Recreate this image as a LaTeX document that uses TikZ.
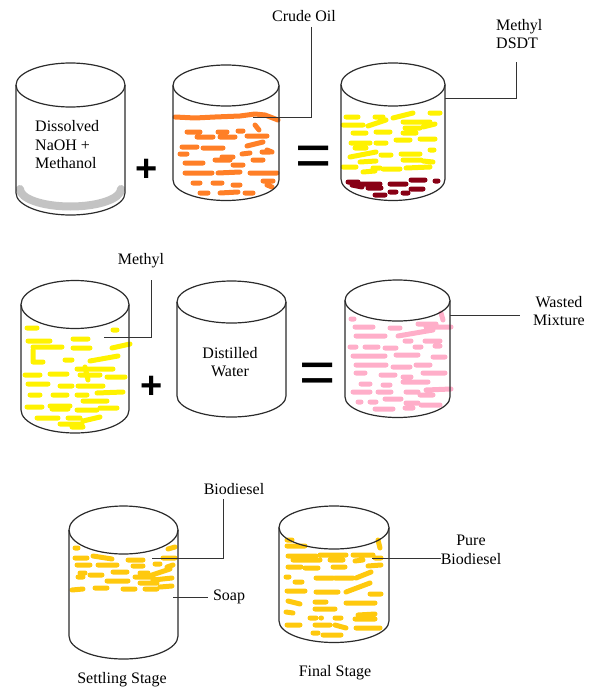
\documentclass[tikz,border=0pt]{standalone}
\usepackage{fontspec}
\setmainfont{Liberation Serif}
\newfontfamily\signfont{Liberation Sans}
\usepackage{xcolor}
\usepackage{tikz}
\definecolor{PaintOrange}{HTML}{FF7F27}
\definecolor{PaintYellow}{HTML}{FFF200}
\definecolor{PaintMaroon}{HTML}{880015}
\definecolor{PaintPink}{HTML}{FFAEC9}
\definecolor{PaintGold}{HTML}{FFC90E}
\definecolor{PaintGrey}{HTML}{C3C3C3}
\definecolor{TankLine}{HTML}{2B2B2B}

\begin{document}
\begin{tikzpicture}[x=1pt,y=-1pt,
  tank/.style={draw=TankLine,line width=1.2},
  leader/.style={draw=black!80,line width=1},
  lbl/.style={font=\fontsize{16}{18.5}\selectfont,inner sep=0pt},
  plussign/.style={font=\signfont\bfseries\fontsize{38}{38}\selectfont,inner sep=0pt},
  eqsign/.style={font=\signfont\fontsize{62}{62}\selectfont,inner sep=0pt},
  blob/.style={line width=5,line cap=round,line join=round}]
\path[use as bounding box] (0,0) rectangle (593,688);

% first row: NaOH + crude oil = methyl layer over residue
\draw[PaintGrey,line width=8,line cap=round] (20,189) arc[start angle=180,end angle=0,x radius=50.5,y radius=17.5];
\draw[tank] (16,85) -- (16,193) arc[start angle=180,end angle=0,x radius=54.5,y radius=22] -- (125,85);
\draw[tank] (70.5,85) ellipse[x radius=54.5,y radius=22];
\node[lbl,anchor=west,align=left] (naoh) at (35,145) {Dissolved\\NaOH +\\Methanol};
\node[plussign] (plusA) at (147,170) {+};

\draw[blob,PaintOrange] (175,117) -- (195,118) -- (215,117) -- (240,116) -- (255,114) -- (265,115) -- (278,120);
\draw[blob,PaintOrange] (187,132)--(200,132) (218,132)--(227,132) (238,131)--(243,131) (255,125)--(259,130)
  (197,137)--(213,137) (220,137)--(235,137) (247,136)--(267,136)
  (182,147)--(197,147) (203,148)--(223,148) (247,146)--(263,142) (267,150)--(272,152)
  (180,154)--(187,154) (222,157)--(233,157) (242,154)--(250,153) (262,152)--(270,152)
  (185,163)--(203,163) (215,160)--(230,160) (233,165)--(243,165) (253,160)--(263,160)
  (185,173)--(212,173) (218,173)--(240,172) (250,173)--(277,173)
  (193,183)--(200,183) (213,183)--(222,183) (233,185)--(240,185) (263,181)--(273,181) (267,185)--(272,187)
  (200,193)--(208,193) (220,193)--(238,192) (245,193)--(253,193);
\draw[tank] (173,85.5) -- (173,180) arc[start angle=180,end angle=0,x radius=53,y radius=20.5] -- (279,85.5);
\draw[tank] (226,85.5) ellipse[x radius=53,y radius=20.5];
\node[lbl] (crude) at (304,16) {Crude Oil};
\node[eqsign] (eqA) at (314,161) {=};

\draw[blob,PaintYellow] (346,117)--(358,117) (375,117)--(383,117) (393,118)--(413,113) (430,113)--(440,113)
  (343,125)--(363,125) (368,126)--(386,120) (403,122)--(430,122) (405,128)--(420,128) (423,127)--(435,124)
  (353,133)--(366,133) (376,132)--(390,132) (403,133)--(416,133)
  (396,140)--(410,140) (420,139)--(435,139)
  (351,143)--(370,143) (376,143)--(386,143)
  (355,148)--(366,148) (430,150)--(434,150)
  (350,157)--(376,152) (381,155)--(391,155) (401,154)--(420,154)
  (360,162)--(376,161) (403,160)--(421,160) (423,161)--(433,162)
  (343,167)--(356,167) (373,168)--(380,168) (383,169)--(400,169) (406,168)--(430,167)
  (363,172)--(375,171);
\draw[blob,PaintMaroon] (348,182)--(358,182) (361,184)--(380,184) (390,184)--(406,184) (411,180)--(425,180) (435,181)--(438,181)
  (352,185)--(362,187) (368,188)--(381,188) (411,189)--(423,189)
  (375,195)--(385,195) (390,192)--(396,192) (403,193)--(408,193);
\draw[tank] (341,84.5) -- (341,179) arc[start angle=180,end angle=0,x radius=52,y radius=21.5] -- (445,84.5);
\draw[tank] (393,84.5) ellipse[x radius=52,y radius=21.5];
\node[lbl,anchor=west,align=left] (dsdt) at (496,34) {Methyl\\DSDT};

\coordinate (crudeTip) at (253,117);
\coordinate (dsdtTip) at (445,98);
\draw[leader] ([xshift=7]crude.south) ++(0,5) |- (crudeTip);
\draw[leader] (dsdt.south west) ++(20,13) |- (dsdtTip);

% second row: washing with distilled water
\draw[blob,PaintYellow] (27,328)--(37,328) (113,330)--(117,330)
  (28,341)--(50,341) (73,339)--(88,339)
  (33,347)--(62,347) (73,348)--(90,348) (112,348)--(130,344)
  (33,350)--(33,362)--(43,362)
  (65,360)--(72,360) (90,361)--(118,356)
  (77,369)--(113,369)
  (25,375)--(40,375) (50,374)--(67,374) (80,375)--(100,375) (107,377)--(125,377) (85,367)--(88,380)
  (28,384)--(48,384) (60,386)--(72,386) (78,386)--(103,386)
  (30,395)--(40,395) (53,395)--(67,395) (77,395)--(87,395) (97,393)--(123,392)
  (83,401)--(107,401)
  (27,407)--(42,407) (50,406)--(70,406) (52,409)--(68,409) (77,410)--(97,410) (100,408)--(117,408)
  (37,418)--(58,418) (68,418)--(80,418) (83,421)--(100,417)
  (60,424)--(82,424) (72,427)--(83,427);
\draw[tank] (21,304.5) -- (21,410) arc[start angle=180,end angle=0,x radius=54,y radius=23] -- (129,304.5);
\draw[tank] (75,304.5) ellipse[x radius=54,y radius=24];
\node[lbl] (methyl) at (141,261) {Methyl};
\node[plussign] (plusB) at (152,387) {+};

\draw[tank] (177,302) -- (177,396) arc[start angle=180,end angle=0,x radius=54.5,y radius=21] -- (286,302);
\draw[tank] (231.5,302) ellipse[x radius=54.5,y radius=21];
\node[lbl,align=center] (water) at (230,362) {Distilled\\Water};
\node[eqsign] (eqB) at (318,378) {=};

\draw[blob,PaintPink] (351,319)--(354,319) (441,313)--(443,320)
  (355,327)--(373,327) (390,328)--(400,328) (418,324)--(436,324) (426,327)--(451,327)
  (356,336)--(385,336) (398,336)--(433,330)
  (405,341)--(411,341) (425,341)--(440,341)
  (350,347)--(356,347) (365,347)--(378,347) (385,348)--(396,348) (415,347)--(421,347) (435,346)--(440,346)
  (353,356)--(385,356) (396,355)--(418,355) (433,357)--(445,357)
  (356,365)--(386,365) (393,367)--(410,367) (416,365)--(430,365)
  (356,373)--(365,373) (381,375)--(395,375) (423,373)--(445,373) (403,377)--(411,377)
  (361,384)--(370,384) (383,385)--(390,385) (403,382)--(428,382)
  (353,392)--(370,392) (378,392)--(391,392) (406,392)--(418,392) (420,395)--(433,395) (426,390)--(451,389)
  (358,402)--(361,402) (370,402)--(376,402) (385,399)--(401,399) (406,403)--(418,403) (421,405)--(440,405)
  (375,409)--(393,409) (405,408)--(413,408);
\draw[tank] (345,300.5) -- (345,397) arc[start angle=180,end angle=0,x radius=52.5,y radius=20.5] -- (450,300.5);
\draw[tank] (397.5,300.5) ellipse[x radius=52.5,y radius=20.5];
\node[lbl,align=center] (wasted) at (559,311) {Wasted\\Mixture};

\coordinate (methylTip) at (104,337);
\coordinate (wasteTip) at (450,315);
\draw[leader] (methyl.south) ++(10,12) |- (methylTip);
\draw[leader,shorten >=13] (wasteTip) -- (wasteTip -| wasted.west);

% third row: settling and final stage
\draw[blob,PaintGold] (75,548)--(78,548) (168,549)--(175,547)
  (75,558)--(87,558) (93,556)--(112,559) (128,560)--(143,560) (163,558)--(175,558)
  (77,565)--(90,565) (98,565)--(117,565) (133,566)--(143,566) (155,564)--(160,564) (167,567)--(173,565)
  (80,573)--(85,573) (113,572)--(127,572) (140,573)--(148,573) (152,575)--(170,569)
  (78,577)--(83,577) (90,575)--(102,575) (135,577)--(153,577) (153,580)--(172,578)
  (107,581)--(128,581) (140,583)--(157,583)
  (72,590)--(83,589) (95,588)--(107,588) (123,589)--(135,589) (145,589)--(157,589) (160,587)--(172,586);
\draw[tank] (69,530) -- (69,636) arc[start angle=180,end angle=0,x radius=54.5,y radius=23] -- (178,530);
\draw[tank] (123.5,530) ellipse[x radius=54.5,y radius=24];
\node[lbl] (biodiesel) at (234,489) {Biodiesel};
\node[lbl] (soap) at (229,597) {Soap};
\node[lbl] (settling) at (122,680) {Settling Stage};

\draw[blob,PaintGold] (287,540)--(292,540) (287,546)--(305,546) (378,540)--(380,548)
  (288,556)--(316,556) (320,555)--(346,555) (353,555)--(373,555) (375,558)--(381,558)
  (293,560)--(320,560) (330,560)--(343,560) (355,561)--(363,560)
  (288,567)--(301,567) (305,568)--(318,568) (333,567)--(345,567) (368,566)--(381,565)
  (286,577)--(289,577) (316,578)--(333,578) (335,578)--(353,578) (356,578)--(371,572)
  (295,582)--(302,582)
  (287,591)--(305,591) (316,592)--(338,592) (346,592)--(370,583)
  (370,594)--(381,594)
  (288,601)--(300,604) (315,602)--(326,602) (346,603)--(375,603)
  (315,609)--(335,609) (286,612)--(293,613)
  (358,615)--(375,614)
  (310,618)--(316,618) (321,618)--(321.5,618) (335,618)--(341,618) (355,619)--(375,619)
  (287,625)--(300,625) (315,625)--(330,625) (335,625)--(346,628)
  (356,628)--(380,628)
  (313,633)--(318,633) (323,635)--(341,635);
\draw[tank] (279,527.5) -- (279,621) arc[start angle=180,end angle=0,x radius=55,y radius=21.5] -- (389,527.5);
\draw[tank] (334,527.5) ellipse[x radius=55,y radius=21.5];
\node[lbl,align=center] (pure) at (471,550) {Pure\\Biodiesel};
\node[lbl] (final) at (335,673) {Final Stage};

\coordinate (bioTip) at (152,558);
\coordinate (soapTip) at (173,597);
\coordinate (pureTip) at (372,558);
\draw[leader] ([xshift=-11]biodiesel.south) ++(0,4) |- (bioTip);
\draw[leader,shorten <=5] (soap.west) -- (soapTip);
\draw[leader] (pureTip) -- (pureTip -| pure.west);
\end{tikzpicture}
\end{document}
